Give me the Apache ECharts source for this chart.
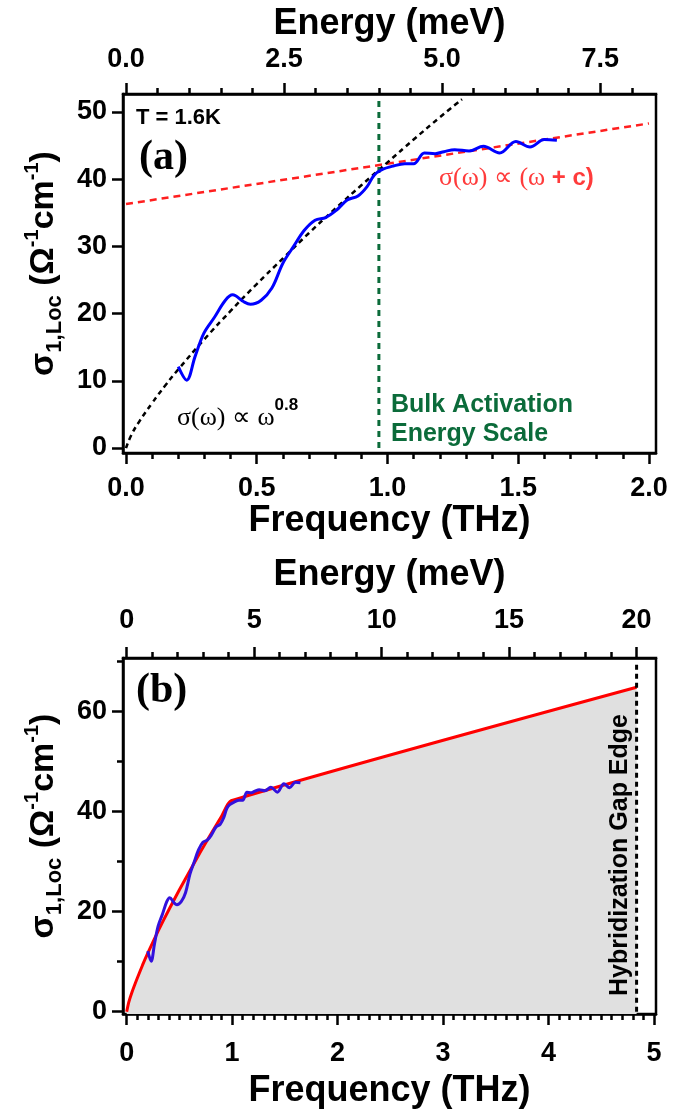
<!DOCTYPE html>
<html><head><meta charset="utf-8">
<script src="https://cdn.jsdelivr.net/npm/echarts@6/dist/echarts.min.js"></script>
<style>html,body{margin:0;padding:0;background:#fff}#c{width:693px;height:1111px}</style>
</head><body><div id="c"></div>
<script>
// ---- data ----
const THZ_TO_MEV = 4.1357;
const freq = [0.200,0.232,0.264,0.298,0.339,0.380,0.408,0.449,0.476,0.517,0.558,0.600,0.641,0.682,0.723,0.764,0.805,0.846,0.887,0.922,0.949,0.977,1.025,1.066,1.100,1.141,1.182,1.216,1.257,1.312,1.367,1.429,1.491,1.545,1.600,1.648];
const sigma = [12.1,10.1,13.6,17.1,19.5,22.0,22.8,21.8,21.4,22.0,23.8,27.5,30.0,32.4,33.9,34.3,35.4,36.9,37.5,38.9,40.6,41.4,42.0,42.3,42.3,43.9,43.8,44.1,44.4,44.2,44.9,43.9,45.6,44.8,45.9,45.8];
const powFitFreq  = [0,0.02,0.05,0.1,0.15,0.2,0.3,0.4,0.5,0.6,0.7,0.8,0.9,1.0,1.1,1.2,1.285];
const powFitSigma = [0,1.9,3.9,6.7,9.3,11.7,16.2,20.4,24.4,28.2,32.0,35.6,39.1,42.5,45.9,49.2,51.9];
const linFitFreq  = [0, 2.0];
const linFitSigma = [36.3, 48.3];
const fullFitFreq  = [0,0.02,0.05,0.1,0.15,0.2,0.3,0.4,0.5,0.6,0.7,0.8,0.9,0.99,4.836];
const fullFitSigma = [0,1.9,3.9,6.7,9.3,11.7,16.2,20.4,24.4,28.2,32.0,35.6,39.1,42.2,64.9];
const bulkActivationMeV = 4.0;
const bulkLineSigma = [0, 52];
const hybridGapMeV = 20;
const hybridLineSigma = [0, 70];
const ticksAFreq = [0,0.5,1,1.5,2];
const ticksAEnergy = [0,2.5,5,7.5];
const ticksASigma = [0,10,20,30,40,50];
const ticksBFreq = [0,1,2,3,4,5];
const ticksBEnergy = [0,5,10,15,20];
const ticksBSigma = [0,20,40,60];
const minorBSigma = [10,30,50,70];

// ---- layout ----
const A = {xmin:-0.0115, xmax:2.027, ymin:-0.74, ymax:52.68};
const B = {xmin:-0.035, xmax:5.02, ymin:-0.46, ymax:70.74};
const FONT = 'Liberation Sans, Arial, sans-serif';
const SERIF = 'Liberation Serif, Times New Roman, serif';
function steps(a, b, s, skip) {
  const out = [];
  for (let i = 0; a + i*s <= b + 1e-9; i++) {
    const v = +(a + i*s).toFixed(4);
    if (!skip.some(m => Math.abs(m - v) < 1e-6)) out.push(v);
  }
  return out;
}
const lw = 2.5;
function majorAxis(grid, pos, min, max, ticks, fmt, name, nameGap, margin) {
  return {
    type:'value', gridIndex:grid, position:pos, min:min, max:max,
    axisLine:{show:true, onZero:false, lineStyle:{color:'#000', width:lw}},
    axisTick:{show:true, customValues:ticks, length:11, lineStyle:{color:'#000', width:lw}},
    axisLabel:{show:true, customValues:ticks, formatter:fmt, margin:margin, color:'#000', fontSize:27, fontWeight:'bold', fontFamily:FONT},
    splitLine:{show:false},
    name:name, nameLocation:'middle', nameGap:nameGap,
    nameTextStyle:{color:'#000', fontSize:36, fontWeight:'bold', fontFamily:FONT}
  };
}
function minorAxis(grid, pos, min, max, ticks) {
  return {
    type:'value', gridIndex:grid, position:pos, min:min, max:max,
    axisLine:{show:false, onZero:false},
    axisTick:{show:true, customValues:ticks, length:6, lineStyle:{color:'#000', width:lw}},
    axisLabel:{show:false}, splitLine:{show:false}
  };
}
const f1 = v => v.toFixed(1);
const f0 = v => v.toFixed(0);
const yName = '{s|σ}{sub|1,Loc}{t| (Ω}{sup|-1}{t|cm}{sup|-1}{t|)}';
const yRich = {
  s:{fontSize:34, fontWeight:'bold', fontFamily:FONT, lineHeight:44, color:'#000'},
  t:{fontSize:34, fontWeight:'bold', fontFamily:FONT, lineHeight:44, color:'#000'},
  sub:{fontSize:22, fontWeight:'bold', fontFamily:FONT, lineHeight:22, verticalAlign:'bottom', color:'#000'},
  sup:{fontSize:20, fontWeight:'bold', fontFamily:FONT, lineHeight:20, verticalAlign:'top', color:'#000'}
};
function yAxisMajor(grid, min, max, ticks) {
  const ax = majorAxis(grid, 'left', min, max, ticks, f0, yName, 50, 16);
  ax.nameTextStyle = {rich: yRich, padding:[0,0,0,20]};
  return ax;
}

const xAxes = [
  majorAxis(0,'bottom',A.xmin,A.xmax,ticksAFreq,f1,'Frequency (THz)',50,22),
  minorAxis(0,'bottom',A.xmin,A.xmax,steps(0,2.0,0.1,ticksAFreq)),
  majorAxis(0,'top',A.xmin*THZ_TO_MEV,A.xmax*THZ_TO_MEV,ticksAEnergy,f1,'Energy (meV)',52,21),
  minorAxis(0,'top',A.xmin*THZ_TO_MEV,A.xmax*THZ_TO_MEV,steps(0,8.0,0.5,ticksAEnergy)),
  majorAxis(1,'bottom',B.xmin,B.xmax,ticksBFreq,f0,'Frequency (THz)',59,26),
  minorAxis(1,'bottom',B.xmin,B.xmax,steps(0,5.0,0.1,ticksBFreq)),
  majorAxis(1,'top',B.xmin*THZ_TO_MEV,B.xmax*THZ_TO_MEV,ticksBEnergy,f0,'Energy (meV)',65,24),
  minorAxis(1,'top',B.xmin*THZ_TO_MEV,B.xmax*THZ_TO_MEV,steps(0,20,1,ticksBEnergy))
];
const yAxes = [
  yAxisMajor(0, A.ymin, A.ymax, ticksASigma),
  yAxisMajor(1, B.ymin, B.ymax, ticksBSigma),
  minorAxis(1, 'left', B.ymin, B.ymax, minorBSigma)
];

const pairs = (xs, ys) => xs.map((x, i) => [x, ys[i]]);
const series = [
  {type:'line', xAxisIndex:0, yAxisIndex:0, data:pairs(linFitFreq, linFitSigma), showSymbol:false, symbol:'none',
   lineStyle:{color:'#ff1f1f', width:2.5, type:[7,5]}, z:3},
  {type:'line', xAxisIndex:0, yAxisIndex:0, data:pairs(powFitFreq, powFitSigma), showSymbol:false, symbol:'none', smooth:true,
   lineStyle:{color:'#000', width:2.5, type:[5,4]}, z:3},
  {type:'line', xAxisIndex:2, yAxisIndex:0, data:pairs([bulkActivationMeV,bulkActivationMeV], bulkLineSigma), showSymbol:false, symbol:'none',
   lineStyle:{color:'#0b6b3a', width:3, type:[6,5]}, z:4},
  {type:'line', xAxisIndex:0, yAxisIndex:0, data:pairs(freq, sigma), showSymbol:false, symbol:'none', smooth:0.35,
   lineStyle:{color:'#0000ff', width:3}, z:5},
  {type:'line', xAxisIndex:4, yAxisIndex:1, data:pairs(fullFitFreq, fullFitSigma), showSymbol:false, symbol:'none', smooth:0.2,
   lineStyle:{color:'#ff0000', width:3}, areaStyle:{color:'#e0e0e0', opacity:1, origin:'start'}, z:2},
  {type:'line', xAxisIndex:6, yAxisIndex:1, data:pairs([hybridGapMeV,hybridGapMeV], hybridLineSigma), showSymbol:false, symbol:'none',
   lineStyle:{color:'#000', width:3, type:[5,4]}, z:3},
  {type:'line', xAxisIndex:4, yAxisIndex:1, data:pairs(freq, sigma), showSymbol:false, symbol:'none', smooth:0.35,
   lineStyle:{color:'#3311dd', width:3}, z:5}
];

const graphic = [
  {type:'text', z:100, x:136, y:118, style:{text:'T = 1.6K', fontSize:22, fontWeight:'bold', fontFamily:FONT, fill:'#000', verticalAlign:'middle'}},
  {type:'text', z:100, x:139, y:158, style:{text:'(a)', fontSize:42, fontWeight:'bold', fontFamily:SERIF, fill:'#000', verticalAlign:'middle'}},
  {type:'text', z:100, x:439, y:178, style:{text:'{a|σ(ω) ∝ (ω }{b|+ c)}', verticalAlign:'middle',
    rich:{a:{fontSize:26, fontFamily:SERIF, fill:'#ff3b3b', lineHeight:30}, b:{fontSize:24, fontWeight:'bold', fontFamily:FONT, fill:'#ff3b3b', lineHeight:30}}}},
  {type:'text', z:100, x:177, y:414, style:{text:'{a|σ(ω) ∝ ω}{b|0.8}', verticalAlign:'middle',
    rich:{a:{fontSize:26, fontFamily:SERIF, fill:'#000', lineHeight:34, verticalAlign:'bottom'}, b:{fontSize:17, fontWeight:'bold', fontFamily:FONT, fill:'#000', lineHeight:17, verticalAlign:'top'}}}},
  {type:'text', z:100, x:391, y:420, style:{text:'Bulk Activation\nEnergy Scale', fontSize:25, lineHeight:29, fontWeight:'bold', fontFamily:FONT, fill:'#0b6b3a', verticalAlign:'middle'}},
  {type:'text', z:100, x:136, y:691, style:{text:'(b)', fontSize:42, fontWeight:'bold', fontFamily:SERIF, fill:'#000', verticalAlign:'middle'}},
  {type:'text', z:100, x:620, y:855, rotation:Math.PI/2, style:{text:'Hybridization Gap Edge', fontSize:25, fontWeight:'bold', fontFamily:FONT, fill:'#000', align:'center', verticalAlign:'middle'}}
];

const chart = echarts.init(document.getElementById('c'), null, {renderer:'canvas'});
chart.setOption({
  animation:false,
  backgroundColor:'#fff',
  grid:[
    {left:123, right:37, top:94, height:359, show:true, borderColor:'#000', borderWidth:2.5, backgroundColor:'transparent'},
    {left:123, right:37, top:658, height:356, show:true, borderColor:'#000', borderWidth:2.5, backgroundColor:'transparent'}
  ],
  xAxis:xAxes, yAxis:yAxes, series:series, graphic:graphic
});
</script></body></html>
